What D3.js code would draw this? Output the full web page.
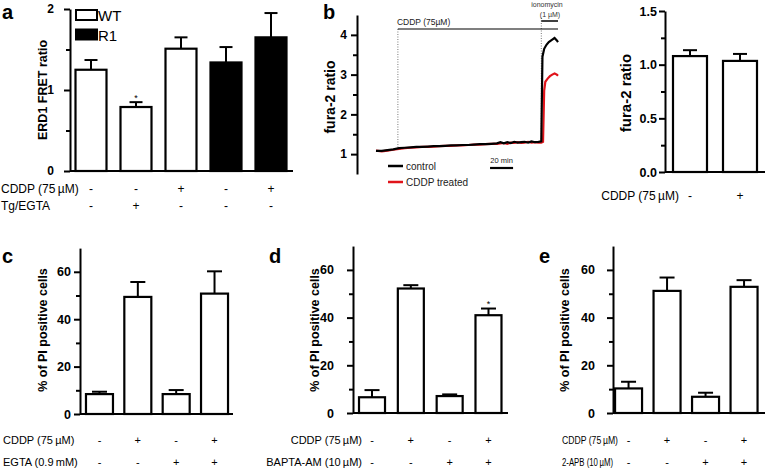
<!DOCTYPE html>
<html><head><meta charset="utf-8">
<script src="https://cdn.jsdelivr.net/npm/d3@7"></script>
<style>body{margin:0;background:#fff}svg{display:block}text{font-family:"Liberation Sans",Arial,sans-serif}</style>
</head><body><svg id="c" width="765" height="469"></svg>
<script>
// ---------------- data ----------------
// panel a
const aCategories = ["WT","WT Tg/EGTA","WT CDDP","R1","R1 CDDP"];
const aGroups = ["WT","WT","WT","R1","R1"];
const aMeans = [1.25,0.79,1.51,1.34,1.65];
const aErrors = [0.12,0.06,0.14,0.19,0.30];
const aCDDP = ["-","-","+","-","+"];
const aTgEGTA = ["-","+","-","-","-"];
const aStars = ["","*","","",""];
const aYTicks = [0,1,2];
const aYMinor = [0.5,1.5];
// panel b trace (time in min, fura-2 ratio)
const ctrlTime = [0,5,10,15,20,25,30,35,40,45,50,55,60,65,70,75,80,85,90,95,100,105,108,111,114,117,120,123,126,129,132,135,138,141,143.5,144.5,146,148,150,153,155,157,158];
const ctrlRatio = [1.08,1.08,1.10,1.12,1.15,1.16,1.17,1.18,1.18,1.19,1.20,1.20,1.21,1.22,1.22,1.23,1.23,1.24,1.25,1.25,1.26,1.27,1.30,1.27,1.30,1.28,1.31,1.29,1.30,1.31,1.29,1.32,1.30,1.31,1.32,3.45,3.65,3.75,3.82,3.88,3.92,3.86,3.82];
const cddpTime = [0,5,10,15,20,25,30,35,40,45,50,55,60,65,70,75,80,85,90,95,100,105,108,111,114,117,120,123,126,129,132,135,138,141,143.5,145,146,147,149,151,153,155,157,158];
const cddpRatio = [1.09,1.07,1.09,1.11,1.13,1.15,1.16,1.17,1.18,1.18,1.19,1.20,1.21,1.21,1.22,1.22,1.23,1.24,1.24,1.25,1.26,1.26,1.27,1.28,1.26,1.29,1.28,1.30,1.28,1.29,1.31,1.29,1.30,1.29,1.29,1.31,2.60,2.82,2.90,2.96,3.00,3.03,3.00,2.97];
const bCDDPStart = 19, bIonoStart = 143.5, bEnd = 158, bScaleBarMin = 20;
const bYTicks = [1,2,3,4];
const bYMinor = [1.5,2.5,3.5];
const bSeries = ["control","CDDP treated"];
// panel b right
const bCategories = ["control","CDDP"];
const bMeans = [1.08,1.035];
const bErrors = [0.055,0.065];
const bCDDP = ["-","+"];
const bBarTicks = [0,0.5,1.0,1.5];
const bBarMinor = [0.25,0.75,1.25];
// panels c, d, e
const pCategories = ["ctrl","CDDP","inhib","CDDP+inhib"];
const cMeans = [8.4,49.4,8.4,50.8];
const cErrors = [1.0,6.3,1.7,9.4];
const dMeans = [6.6,52.2,7.1,41.0];
const dErrors = [3.0,1.4,0.7,2.8];
const dStars = ["","","","*"];
const eMeans = [10.3,51.2,6.8,52.9];
const eErrors = [2.8,5.6,1.7,2.8];
const pCDDP = ["-","+","-","+"];
const pInhib = ["-","-","+","+"];
const pYTicks = [0,20,40,60];
const pYMinor = [10,30,50];

// ---------------- drawing ----------------
const svg = d3.select("#c");

function leftAxis(x0, y, major, minor, fmt, pad, fs) {
  const gm = svg.append("g").attr("transform", `translate(${x0},0)`)
    .call(d3.axisLeft(y).tickValues(minor).tickSize(4).tickSizeOuter(0).tickFormat(""));
  gm.select(".domain").remove();
  const g = svg.append("g").attr("transform", `translate(${x0},0)`)
    .call(d3.axisLeft(y).tickValues(major).tickSize(6).tickSizeOuter(0).tickPadding(pad).tickFormat(fmt));
  [gm, g].forEach(s => {
    s.selectAll("line").attr("stroke", "#000").attr("stroke-width", 2);
    s.selectAll(".domain").attr("stroke", "#000").attr("stroke-width", 2);
  });
  g.selectAll("text").attr("font-size", fs).attr("font-weight", "bold").attr("fill", "#000")
    .attr("font-family", '"Liberation Sans",Arial,sans-serif');
}

function yTitle(x, yc, txt, fs) {
  svg.append("text").attr("transform", `translate(${x},${yc}) rotate(-90)`)
    .attr("text-anchor", "middle").attr("dominant-baseline", "central")
    .attr("font-size", fs).attr("font-weight", "bold").text(txt);
}

function letter(x, y, t) {
  svg.append("text").attr("x", x).attr("y", y).attr("font-size", 20).attr("font-weight", "bold").text(t);
}

function bars(cats, means, errs, x, y, w, fills, cap) {
  const g = svg.append("g");
  const idx = d3.range(cats.length);
  g.selectAll("line.err").data(idx).join("line")
    .attr("x1", i => x(cats[i])).attr("x2", i => x(cats[i]))
    .attr("y1", i => y(means[i])).attr("y2", i => y(means[i] + errs[i]))
    .attr("stroke", "#000").attr("stroke-width", 2);
  g.selectAll("line.cap").data(idx).join("line")
    .attr("x1", i => x(cats[i]) - cap / 2).attr("x2", i => x(cats[i]) + cap / 2)
    .attr("y1", i => y(means[i] + errs[i])).attr("y2", i => y(means[i] + errs[i]))
    .attr("stroke", "#000").attr("stroke-width", 2);
  g.selectAll("rect").data(idx).join("rect")
    .attr("x", i => x(cats[i]) - w / 2).attr("y", i => y(means[i]))
    .attr("width", w).attr("height", i => y(0) - y(means[i]))
    .attr("fill", i => fills[i]).attr("stroke", "#000").attr("stroke-width", 2.2);
}

function baseLine(x0, x1, y) {
  svg.append("line").attr("x1", x0).attr("x2", x1).attr("y1", y(0)).attr("y2", y(0))
    .attr("stroke", "#000").attr("stroke-width", 2.2);
}

function rows(cats, x, rowDefs, fs) {
  rowDefs.forEach(r => {
    const t = svg.append("text").attr("x", r.lx).attr("y", r.y).attr("text-anchor", r.anchor)
      .attr("font-size", r.fs || fs).text(r.label);
    if (r.len) t.attr("textLength", r.len).attr("lengthAdjust", "spacingAndGlyphs");
    svg.selectAll(null).data(cats).enter().append("text")
      .attr("x", d => x(d)).attr("y", r.y).attr("text-anchor", "middle")
      .attr("font-size", fs).text((d, i) => r.signs[i]);
  });
}

function stars(cats, means, errs, marks, x, y, dy) {
  svg.selectAll(null).data(cats).enter().append("text")
    .attr("x", d => x(d)).attr("y", (d, i) => y(means[i] + errs[i]) - dy)
    .attr("text-anchor", "middle").attr("font-size", 9).text((d, i) => marks[i]);
}

// ---- panel a ----
{
  const y = d3.scaleLinear().domain([0, 2]).range([171, 9]);
  const x = d3.scalePoint().domain(aCategories).range([68.5, 293.5]).padding(0.5);
  bars(aCategories, aMeans, aErrors, x, y, 31, aGroups.map(g => g === "WT" ? "#fff" : "#000"), 13);
  leftAxis(70, y, aYTicks, aYMinor, d3.format("d"), 10, 12);
  baseLine(70, 293, y);
  stars(aCategories, aMeans, aErrors, aStars, x, y, 1);
  yTitle(43, 90, "ERD1 FRET ratio", 12.5);
  letter(2, 19, "a");
  rows(aCategories, x, [
    {label: "CDDP (75\u2009\u00b5M)", signs: aCDDP, y: 193, lx: 1, anchor: "start"},
    {label: "Tg/EGTA", signs: aTgEGTA, y: 210, lx: 1, anchor: "start"}
  ], 12);
  // legend
  const leg = [{k: "WT", fill: "#fff", y: 10}, {k: "R1", fill: "#000", y: 29.5}];
  leg.forEach(l => {
    svg.append("rect").attr("x", 76).attr("y", l.y).attr("width", 21).attr("height", 10)
      .attr("fill", l.fill).attr("stroke", "#000").attr("stroke-width", 2);
    svg.append("text").attr("x", 98).attr("y", l.y + 11).attr("font-size", 15).text(l.k);
  });
}

// ---- panel b trace ----
{
  const y = d3.scaleLinear().domain([0.5, 4.5]).range([174, 15]);
  const x = d3.scaleLinear().domain([0, bEnd]).range([376, 558]);
  leftAxis(357, y, bYTicks, bYMinor, d3.format("d"), 4, 12);
  yTitle(330, 97, "fura-2 ratio", 14);
  letter(323, 18.5, "b");
  const line = d3.line().x(d => x(d[0])).y(d => y(d[1]));
  // dotted markers
  const ctrlAt = t => ctrlRatio[d3.bisectLeft(ctrlTime, t)];
  svg.append("line").attr("x1", x(bCDDPStart)).attr("x2", x(bCDDPStart))
    .attr("y1", 29).attr("y2", y(ctrlAt(bCDDPStart)))
    .attr("stroke", "#777").attr("stroke-width", 1).attr("stroke-dasharray", "1,1.5");
  svg.append("line").attr("x1", x(bIonoStart)).attr("x2", x(bIonoStart))
    .attr("y1", 18).attr("y2", y(1.32))
    .attr("stroke", "#777").attr("stroke-width", 1).attr("stroke-dasharray", "1,1.5");
  svg.append("line").attr("x1", x(bCDDPStart)).attr("x2", x(bEnd)).attr("y1", 29).attr("y2", 29)
    .attr("stroke", "#000").attr("stroke-width", 1.2);
  svg.append("text").attr("x", x(bCDDPStart) - 1).attr("y", 24.5).attr("font-size", 8.5).attr("fill", "#222")
    .text("CDDP (75\u00b5M)");
  svg.append("line").attr("x1", x(bIonoStart)).attr("x2", x(bEnd)).attr("y1", 21).attr("y2", 21)
    .attr("stroke", "#000").attr("stroke-width", 1.5);
  svg.append("text").attr("x", 547).attr("y", 7).attr("text-anchor", "middle").attr("font-size", 7).attr("fill", "#333").text("ionomycin");
  svg.append("text").attr("x", 550).attr("y", 17).attr("text-anchor", "middle").attr("font-size", 7).attr("fill", "#333").text("(1 \u00b5M)");
  // traces
  svg.append("path").datum(d3.zip(cddpTime, cddpRatio)).attr("d", line)
    .attr("fill", "none").attr("stroke", "#e0141b").attr("stroke-width", 2.2);
  svg.append("path").datum(d3.zip(ctrlTime, ctrlRatio)).attr("d", line)
    .attr("fill", "none").attr("stroke", "#000").attr("stroke-width", 2.2);
  // legend
  const colors = ["#000", "#e0141b"];
  bSeries.forEach((s, i) => {
    const ly = 166 + i * 16;
    svg.append("line").attr("x1", 388).attr("x2", 403).attr("y1", ly).attr("y2", ly)
      .attr("stroke", colors[i]).attr("stroke-width", 2.5);
    svg.append("text").attr("x", 406).attr("y", ly + 3.5).attr("font-size", 10).attr("fill", "#222").text(s);
  });
  // scale bar
  const sb0 = 99;
  svg.append("line").attr("x1", x(sb0)).attr("x2", x(sb0 + bScaleBarMin)).attr("y1", 168).attr("y2", 168)
    .attr("stroke", "#000").attr("stroke-width", 2.2);
  svg.append("text").attr("x", (x(sb0) + x(sb0 + bScaleBarMin)) / 2).attr("y", 163).attr("text-anchor", "middle")
    .attr("font-size", 7.5).attr("fill", "#222").text(bScaleBarMin + " min");
}

// ---- panel b bars ----
{
  const y = d3.scaleLinear().domain([0, 1.5]).range([172, 11]);
  const x = d3.scalePoint().domain(bCategories).range([665, 765]).padding(0.5);
  bars(bCategories, bMeans, bErrors, x, y, 34, ["#fff", "#fff"], 14);
  leftAxis(665, y, bBarTicks, bBarMinor, d3.format(".1f"), 2, 12.5);
  baseLine(665, 765, y);
  yTitle(625, 93, "fura-2 ratio", 15);
  rows(bCategories, x, [
    {label: "CDDP (75\u2009\u00b5M)", signs: bCDDP, y: 200, lx: 679, anchor: "end"}
  ], 12);
}

// ---- panels c, d, e ----
function piPanel(cfg) {
  const y = d3.scaleLinear().domain([0, 70]).range([cfg.y0, cfg.y0 - 70 * cfg.ppu]);
  const x = d3.scalePoint().domain(pCategories).range(cfg.xr).padding(0.5);
  bars(pCategories, cfg.means, cfg.errs, x, y, cfg.w, pCategories.map(() => "#fff"), 15);
  leftAxis(cfg.ax, y, pYTicks, pYMinor, d3.format("d"), cfg.pad, 12.5);
  baseLine(cfg.ax, cfg.xEnd, y);
  if (cfg.stars) stars(pCategories, cfg.means, cfg.errs, cfg.stars, x, y, 2);
  yTitle(cfg.tx, 330, "% of PI positive cells", 12.5);
  letter(cfg.lx, 263, cfg.letter);
  rows(pCategories, x, [
    {label: "CDDP (75\u2009\u00b5M)", signs: pCDDP, y: 444, lx: cfg.r1x, anchor: cfg.anchor, fs: cfg.rfs, len: cfg.l1},
    {label: cfg.inhib, signs: pInhib, y: 466, lx: cfg.r2x, anchor: cfg.anchor, fs: cfg.rfs, len: cfg.l2}
  ], 11);
}
piPanel({means: cMeans, errs: cErrors, y0: 414, ppu: 2.37, xr: [80.3, 233.7], w: 27, ax: 80, xEnd: 233,
  pad: 3, tx: 43, lx: 2, letter: "c", inhib: "EGTA (0.9\u2009mM)", r1x: 3, r2x: 3, anchor: "start"});
piPanel({means: dMeans, errs: dErrors, stars: dStars, y0: 413, ppu: 2.385, xr: [352.6, 507.9], w: 26, ax: 353, xEnd: 508,
  pad: 13, tx: 315, lx: 269, letter: "d", inhib: "BAPTA-AM (10\u2009\u00b5M)", r1x: 362, r2x: 362, anchor: "end"});
piPanel({means: eMeans, errs: eErrors, y0: 413, ppu: 2.385, xr: [609.3, 763.3], w: 27, ax: 613, xEnd: 765,
  pad: 12, tx: 565, lx: 539, letter: "e", inhib: "2-APB (10\u2009\u00b5M)", r1x: 562, r2x: 562, anchor: "start",
  rfs: 10, l1: 56, l2: 51});
</script></body></html>
